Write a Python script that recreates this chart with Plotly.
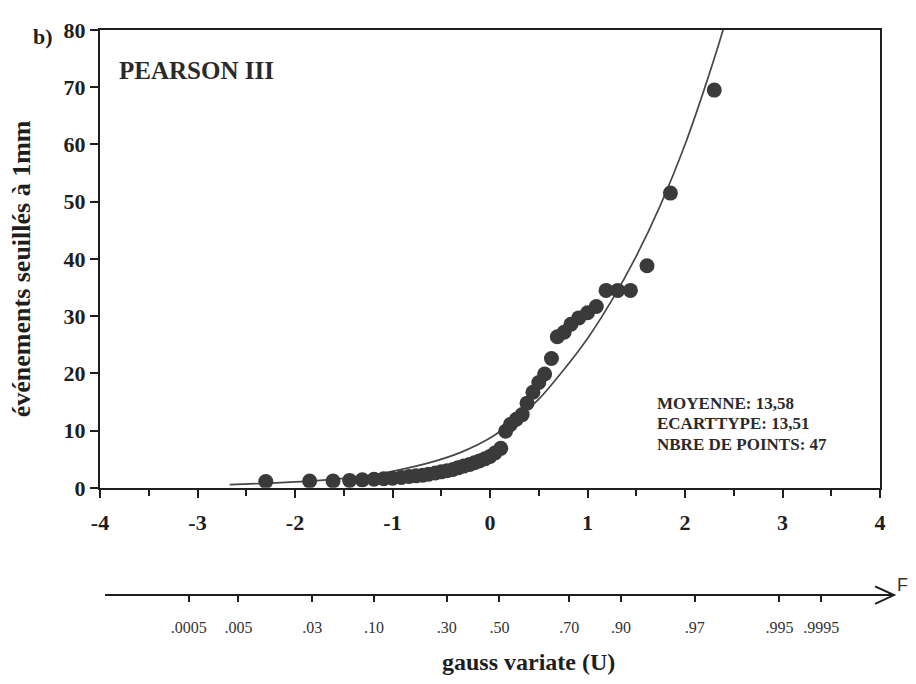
import plotly.graph_objects as go

# ---------------- data ----------------
# observed events (gauss variate U of plotting position, value)
u_obs = [-2.30, -1.85, -1.61, -1.44, -1.31, -1.19, -1.09, -1.00, -0.91, -0.83,
         -0.76, -0.69, -0.63, -0.56, -0.50, -0.44, -0.38, -0.33, -0.27, -0.21,
         -0.16, -0.11, -0.05, 0.00, 0.05, 0.11, 0.16, 0.21, 0.27, 0.33,
         0.38, 0.44, 0.50, 0.56, 0.63, 0.69, 0.76, 0.83, 0.91, 1.00,
         1.09, 1.19, 1.31, 1.44, 1.61, 1.85, 2.30]
events_obs = [1.1, 1.2, 1.2, 1.3, 1.4, 1.5, 1.6, 1.7, 1.8, 2.0,
              2.1, 2.2, 2.4, 2.6, 2.8, 3.0, 3.2, 3.5, 3.8, 4.1,
              4.4, 4.7, 5.1, 5.5, 6.1, 6.9, 9.9, 11.1, 12.0, 12.8,
              14.8, 16.7, 18.4, 19.9, 22.6, 26.4, 27.2, 28.6, 29.7, 30.6,
              31.7, 34.5, 34.5, 34.5, 38.8, 51.5, 69.5]

# fitted Pearson III curve (read points)
u_fit = [-2.67, -2.30, -2.00, -1.60, -1.30, -1.00, -0.60, -0.30, 0.00, 0.25,
         0.50, 0.75, 1.00, 1.25, 1.50, 1.75, 2.00, 2.20, 2.40, 2.50]
events_fit = [0.55, 0.8, 1.05, 1.5, 2.0, 2.9, 4.5, 6.2, 8.7, 11.8,
              15.5, 20.5, 26.1, 32.8, 40.5, 49.5, 60.0, 69.8, 80.6, 87.0]

# main axes ticks
u_ticks = [-4, -3, -2, -1, 0, 1, 2, 3, 4]
y_ticks = [0, 10, 20, 30, 40, 50, 60, 70, 80]

# probability scale (F) under the gauss axis
f_pos = [-3.091, -2.580, -1.824, -1.190, -0.444, 0.097, 0.812, 1.344, 2.100, 2.968, 3.397]
f_labels = [".0005", ".005", ".03", ".10", ".30", ".50", ".70", ".90", ".97", ".995", ".9995"]

stats_lines = ["MOYENNE: 13,58", "ECARTTYPE: 13,51", "NBRE DE POINTS: 47"]

# ---------------- figure ----------------
# the page body adds an 8 px margin all round, so the figure is made smaller
OFF = 8
W, H = 916 - 2 * OFF, 684 - 2 * OFF
P_LEFT, P_RIGHT, P_TOP, P_BOTTOM = 100, 895, 18, 600     # paper area on screen
ML, MT = P_LEFT - OFF, P_TOP - OFF
MR, MB = W - (P_RIGHT - OFF), H - (P_BOTTOM - OFF)
PW, PH = P_RIGHT - P_LEFT, P_BOTTOM - P_TOP


def PX(x):  # screen pixel -> paper fraction
    return (x - P_LEFT) / PW


def PY(y):
    return (P_BOTTOM - y) / PH


SERIF = "Liberation Serif, Times New Roman, serif"
INK = "#1e1e1e"

fig = go.Figure()
fig.add_trace(go.Scatter(x=u_fit, y=events_fit, mode="lines",
                         line=dict(color="#474747", width=1.7, shape="spline", smoothing=0.8),
                         hoverinfo="skip", showlegend=False))
fig.add_trace(go.Scatter(x=u_obs, y=events_obs, mode="markers",
                         marker=dict(size=15, color="#3a3a3a", line=dict(width=0)),
                         showlegend=False))
# invisible trace so that the probability axis is drawn
fig.add_trace(go.Scatter(x=[None], y=[None], xaxis="x2", yaxis="y2",
                         showlegend=False, hoverinfo="skip"))

axis_common = dict(showgrid=False, zeroline=False, showline=True, linecolor=INK,
                   linewidth=2, ticks="outside", tickcolor=INK, tickwidth=2)

fig.update_layout(
    width=W, height=H,
    margin=dict(l=ML, r=MR, t=MT, b=MB),
    paper_bgcolor="white", plot_bgcolor="rgba(0,0,0,0)",
    showlegend=False,
    xaxis=dict(domain=[0, PX(883)], range=[-4, 4],
               tickvals=u_ticks, ticktext=[str(v) for v in u_ticks],
               ticklen=8, mirror=True, ticklabelstandoff=6,
               tickfont=dict(family=SERIF, size=22, color=INK, weight="bold"),
               minor=dict(dtick=0.5, ticks="outside", ticklen=6, tickwidth=2, tickcolor=INK),
               **axis_common),
    yaxis=dict(domain=[PY(485.5), 1], range=[0, 80],
               tickvals=y_ticks, ticktext=[str(v) for v in y_ticks],
               ticklen=8, mirror=True, ticklabeloverflow="allow",
               tickfont=dict(family=SERIF, size=22, color=INK, weight="bold"),
               **axis_common),
    xaxis2=dict(domain=[PX(105), 1], range=[-3.949, 4.123],
                anchor="free", position=PY(595),
                tickvals=f_pos, ticktext=f_labels, ticklen=6, ticklabelstandoff=12,
                tickfont=dict(family=SERIF, size=16, color="#333333"),
                **axis_common),
    yaxis2=dict(domain=[0, 0.005], anchor="x2", visible=False),
)

# arrow head of the probability axis
fig.add_shape(type="path", xref="paper", yref="paper",
              path=f"M {PX(878)} {PY(586)} L {PX(897)} {PY(595)} L {PX(878)} {PY(604)}",
              line=dict(color=INK, width=2))

ann = []
ann.append(dict(text="b)", x=PX(55), y=PY(25), xanchor="right", yanchor="middle",
                font=dict(family=SERIF, size=22, color=INK, weight="bold")))
ann.append(dict(text="PEARSON III", x=PX(117), y=PY(59), xanchor="left", yanchor="middle",
                font=dict(family=SERIF, size=25, color="#2a2a2a", weight="bold")))
for i, line in enumerate(stats_lines):
    ann.append(dict(text=line, x=PX(657), y=PY(399 + 21 * i), xanchor="left", yanchor="middle",
                    font=dict(family=SERIF, size=17, color="#2a2a2a", weight="bold")))
ann.append(dict(text="événements seuillés à 1mm", textangle=-90, x=PX(22), y=PY(262),
                xanchor="center", yanchor="middle",
                font=dict(family=SERIF, size=26, color=INK, weight="bold")))
ann.append(dict(text="gauss variate (U)", x=PX(530), y=PY(663), xanchor="center", yanchor="middle",
                font=dict(family=SERIF, size=24, color=INK, weight="bold")))
ann.append(dict(text="F", x=PX(898), y=PY(585), xanchor="left", yanchor="middle",
                font=dict(family="Liberation Sans, Arial, sans-serif", size=18, color="#333333")))
for a in ann:
    a.update(xref="paper", yref="paper", showarrow=False)
fig.update_layout(annotations=ann)

fig.write_html("out.html")
